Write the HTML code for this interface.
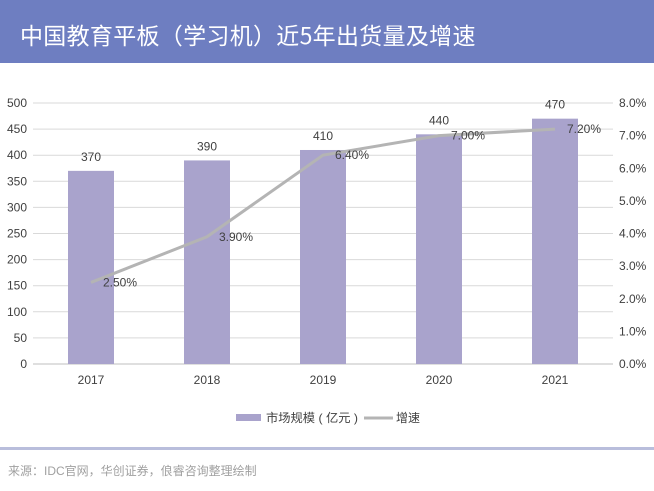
<!DOCTYPE html>
<html><head><meta charset="utf-8"><style>
body{margin:0;width:654px;height:491px;background:#fff;overflow:hidden;font-family:"Liberation Sans","Noto Sans CJK SC",sans-serif;position:relative}
#hdr{position:absolute;left:0;top:0;width:654px;height:63px;background:#6e7ec1}
#title{position:absolute;left:20px;top:17px;color:#fff;font-size:23px;font-family:"Noto Sans CJK SC",sans-serif;letter-spacing:0.3px}
#foot{position:absolute;left:0;top:447px;width:654px;height:3px;background:#b9bedc}
#src{position:absolute;left:8px;top:462px;color:#a0a0a0;font-size:12px}
</style></head><body>
<div id="hdr"><div id="title">中国教育平板（学习机）近5年出货量及增速</div></div>
<svg id="c" width="654" height="445" style="position:absolute;left:0;top:0"></svg>
<div id="foot"></div>
<div id="src">来源：IDC官网，华创证券，俍睿咨询整理绘制</div>
<script>
const categories=["2017","2018","2019","2020","2021"];
const marketSize=[370,390,410,440,470];
const growth=[2.5,3.9,6.4,7.0,7.2];
const leftTicks=[0,50,100,150,200,250,300,350,400,450,500];
const rightTicks=[0,1,2,3,4,5,6,7,8];
const NS="http://www.w3.org/2000/svg";
const svg=document.getElementById('c');
const L=33,R=613,T=103,B=364;
const band=(R-L)/categories.length;
const x=i=>L+band*(i+0.5);
const yL=v=>B-(v/500)*(B-T);
const yR=v=>B-(v/8)*(B-T);
function mk(tag,a,parent){const e=document.createElementNS(NS,tag);for(const k in a)e.setAttribute(k,a[k]);(parent||svg).appendChild(e);return e;}
leftTicks.forEach(v=>{
 const g=mk('line',{x1:L,x2:R,y1:yL(v),y2:yL(v),stroke:v===0?'#bfbfbf':'#d9d9d9','stroke-width':1});
 
 
 const t=mk('text',{x:27,y:yL(v)+4,'text-anchor':'end','font-size':12,fill:'#404040'});t.textContent=v;
 
 
});
rightTicks.forEach(v=>{
 const t=mk('text',{x:619,y:yR(v)+4,'font-size':12,fill:'#404040'});t.textContent=v.toFixed(1)+'%';
 
 
});
const bw=46;
categories.forEach((c,i)=>{
 const r=mk('rect',{x:x(i)-bw/2,y:yL(marketSize[i]),width:bw,height:B-yL(marketSize[i]),fill:'#a9a3cc'});
 
 
 const t=mk('text',{x:x(i),y:yL(marketSize[i])-10,'text-anchor':'middle','font-size':12,fill:'#404040'});t.textContent=marketSize[i];
 
 
 const xl=mk('text',{x:x(i),y:384,'text-anchor':'middle','font-size':12,fill:'#404040'});xl.textContent=c;
 
 
});
const pl=mk('polyline',{points:growth.map((v,i)=>x(i)+','+yR(v)).join(' '),fill:'none',stroke:'#b4b4b4','stroke-width':3});


growth.forEach((v,i)=>{
 const t=mk('text',{x:x(i)+12,y:yR(v)+4,'font-size':12,fill:'#404040'});t.textContent=v.toFixed(2)+'%';
 
 
});
const lb=mk('rect',{x:236,y:414,width:25,height:7,fill:'#a9a3cc'});


const lt=mk('text',{x:266,y:422,'font-size':12,fill:'#404040',textLength:92,lengthAdjust:'spacingAndGlyphs'});lt.textContent='市场规模 ( 亿元 )';


const ll=mk('line',{x1:364,x2:393,y1:418,y2:418,stroke:'#b4b4b4','stroke-width':3});


const lt2=mk('text',{x:396,y:422,'font-size':12,fill:'#404040'});lt2.textContent='增速';


</script>
</body></html>
